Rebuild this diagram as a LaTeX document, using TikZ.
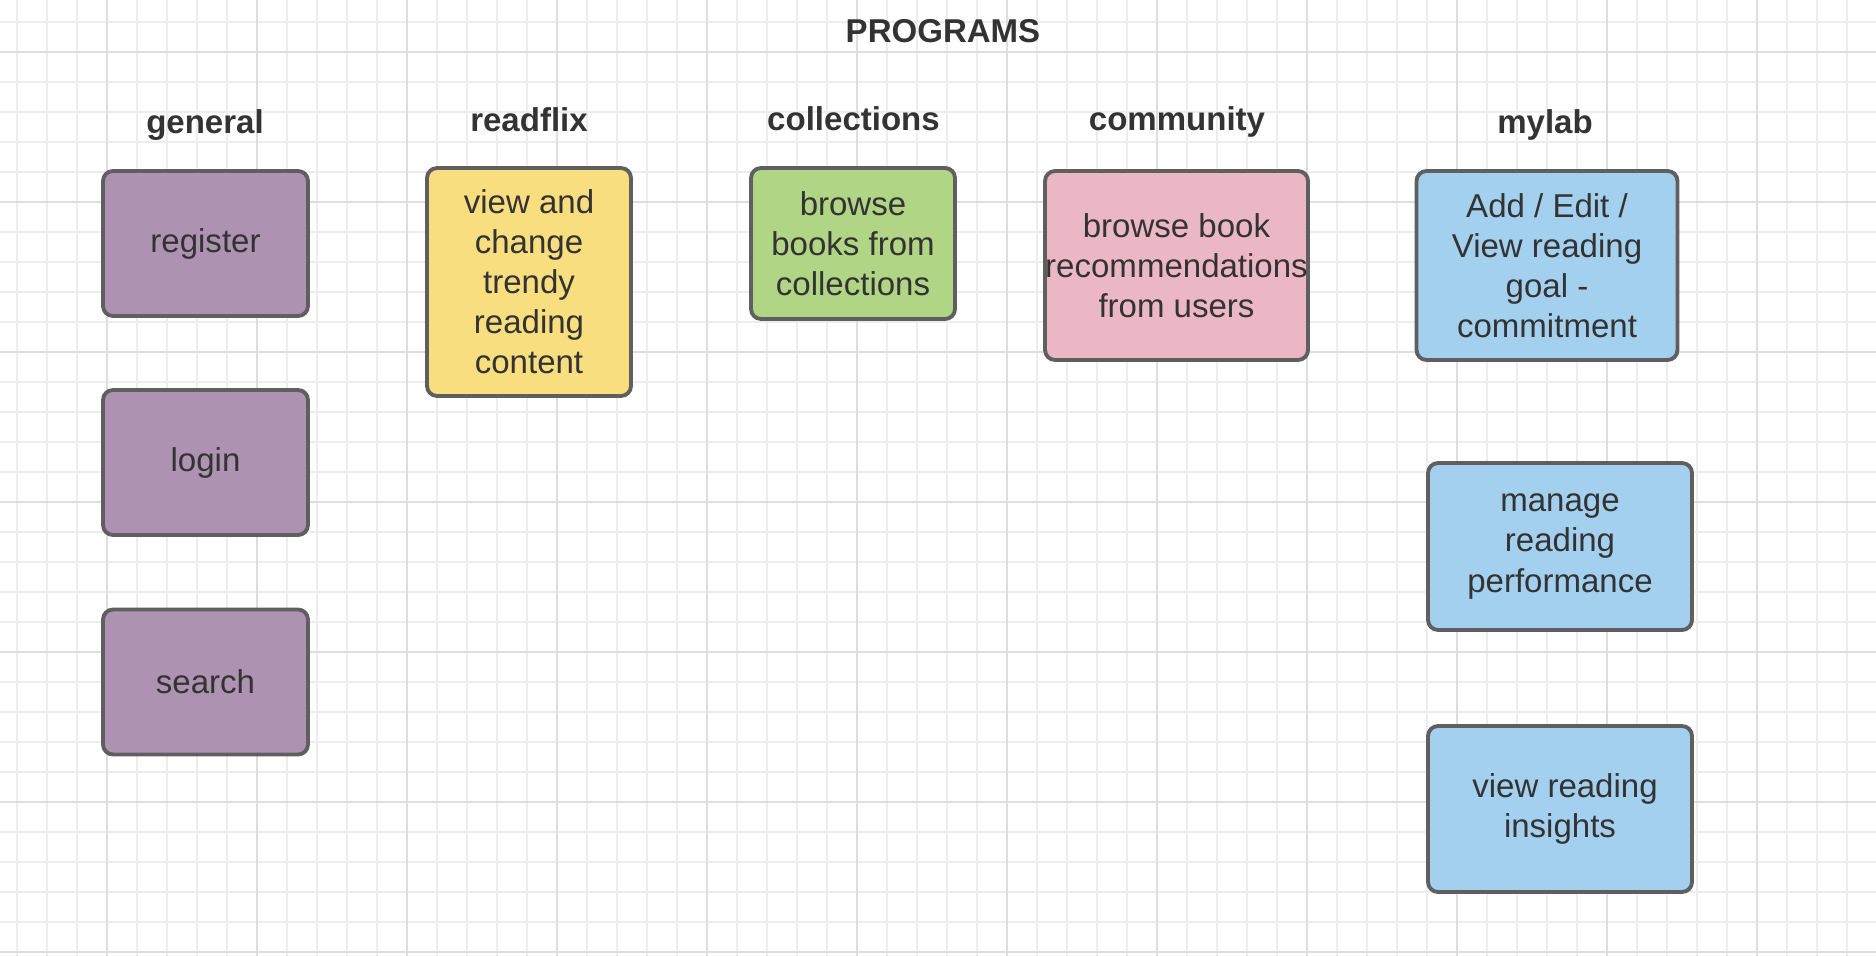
\documentclass[tikz,border=0pt]{standalone}
\usepackage{fontspec}
\setmainfont{Liberation Sans}
\definecolor{minorline}{HTML}{EDEDED}
\definecolor{majorline}{HTML}{DEDEDE}
\definecolor{boxline}{HTML}{5F5F5F}
\definecolor{inktext}{HTML}{333333}
\definecolor{generalfill}{HTML}{AE92B1}
\definecolor{readflixfill}{HTML}{F8DE7E}
\definecolor{collectfill}{HTML}{B0D584}
\definecolor{communityfill}{HTML}{ECB7C5}
\definecolor{mylabfill}{HTML}{A4D0EF}
\tikzset{
  program/.style = {
    draw=boxline, line width=2.2pt, rounded corners=0.2cm,
    inner sep=0pt, align=center, text=inktext,
    font=\fontsize{18.8}{22.8}\selectfont
  },
  heading/.style = {
    text=inktext, inner sep=0pt, anchor=base,
    font=\fontsize{18.8}{22.8}\selectfont\bfseries
  },
  minorgrid/.style = {draw=minorline, line width=0.6pt},
  majorgrid/.style = {draw=majorline, line width=1.1pt}
}

\begin{document}
\begin{tikzpicture}[x=0.02cm,y=-0.02cm]
  \useasboundingbox (0,0) rectangle (1876,956);
  % minor grid
  \foreach\X in {17,47,...,1877} {\draw[minorgrid](\X,0)--(\X,956);}
  \foreach\Y in {22,52,...,952} {\draw[minorgrid](0,\Y)--(1876,\Y);}
  % major grid
  \foreach\X in {107,257,...,1757} {\draw[majorgrid](\X,0)--(\X,956);}
  \foreach\Y in {52,202,...,952} {\draw[majorgrid](0,\Y)--(1876,\Y);}
  % title
  \node[heading] (programs) at (943,42.5) {PROGRAMS};
  % column headings
  \node[heading] (hgeneral) at (205,134) {general};
  \node[heading] (hreadflix) at (529,131.5) {readflix};
  \node[heading] (hcollections) at (853.5,131) {collections};
  \node[heading] (hcommunity) at (1177,130.5) {community};
  \node[heading] (hmylab) at (1545,133.5) {mylab};
  % general
  \node[program,fill=generalfill,minimum width=4.1cm,minimum height=2.9cm] (register) at (205.5,243.5) {register};
  \node[program,fill=generalfill,minimum width=4.1cm,minimum height=2.9cm] (login) at (205.5,462.5) {login};
  \node[program,fill=generalfill,minimum width=4.1cm,minimum height=2.9cm] (search) at (205.5,682) {search};
  % readflix
  \node[program,fill=readflixfill,minimum width=4.08cm,minimum height=4.56cm] (trendy) at (529,282)
    {view and\\change\\trendy\\reading\\content};
  % collections
  \node[program,fill=collectfill,minimum width=4.08cm,minimum height=3.02cm] (browsecoll) at (853,243.5)
    {browse\\books from\\collections};
  % community
  \node[program,fill=communityfill,minimum width=5.26cm,minimum height=3.78cm] (browserec) at (1176.5,265.5)
    {browse book\\recommendations\\from users};
  % mylab
  \node[program,fill=mylabfill,minimum width=5.22cm,minimum height=3.78cm] (goal) at (1547,265.5)
    {Add / Edit /\\View reading\\goal -\\commitment};
  \node[program,fill=mylabfill,minimum width=5.28cm,minimum height=3.34cm] (performance) at (1560,546.5)
    {manage\\reading\\performance};
  \node[program,fill=mylabfill,minimum width=5.28cm,minimum height=3.32cm] (insights) at (1560,809)
    {\hspace*{0.2cm}view reading\\insights};
\end{tikzpicture}
\end{document}
